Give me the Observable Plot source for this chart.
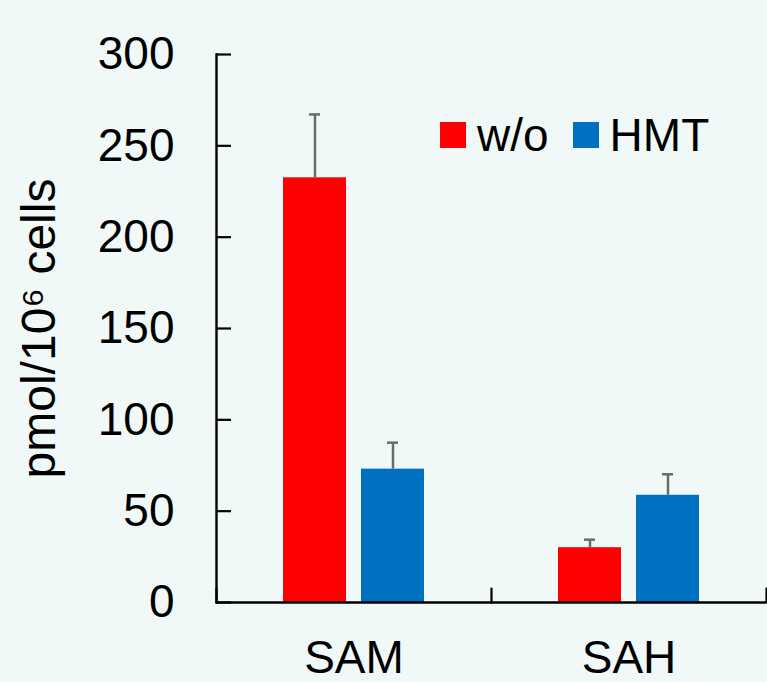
<!DOCTYPE html>
<html>
<head>
<meta charset="utf-8">
<script src="https://cdn.jsdelivr.net/npm/d3@7"></script>
<script src="https://cdn.jsdelivr.net/npm/@observablehq/plot@0.6"></script>
<style>
  html, body { margin: 0; padding: 0; background: #f1f9f8; }
  #wrap { position: relative; width: 767px; height: 682px; font-family: "Liberation Sans", Arial, sans-serif; }
  #legend { position: absolute; left: 440px; top: 112px; display: flex; align-items: center; font-size: 46px; line-height: 46px; color: #000; }
  #legend .sw { width: 26px; height: 26px; margin-right: 11px; }
  #legend .item { display: flex; align-items: center; margin-right: 24px; }
</style>
</head>
<body>
<div id="wrap"></div>
<script>
const categories = ["SAM", "SAH"];
const series = ["w/o", "HMT"];
const colors = ["#ff0000", "#0070c0"];
const woValues = [232.5, 30.0];
const hmtValues = [73.0, 58.7];
const woErr = [34.7, 4.4];
const hmtErr = [14.5, 11.5];
const yTicks = [0, 50, 100, 150, 200, 250, 300];
const yLabel = "pmol/10\u2076 cells";

const rows = [];
categories.forEach((c, i) => {
  rows.push({category: c, series: series[0], value: woValues[i], err: woErr[i]});
  rows.push({category: c, series: series[1], value: hmtValues[i], err: hmtErr[i]});
});

const tickUp = {draw(ctx, l) { ctx.moveTo(0, 0); ctx.lineTo(0, -l); }};

const plot = Plot.plot({
  width: 767,
  height: 682,
  marginLeft: 215,
  marginRight: 1,
  marginTop: 54,
  marginBottom: 80,
  style: {background: "#f1f9f8", fontFamily: "Liberation Sans, Arial, sans-serif", color: "#000"},
  fx: {domain: categories, padding: 0},
  x: {domain: series, paddingInner: 0.19, paddingOuter: 0.85, axis: null},
  y: {domain: [0, 300]},
  color: {domain: series, range: colors},
  marks: [
    Plot.barY(rows, {fx: "category", x: "series", y: "value", fill: "series"}),
    Plot.ruleX(rows, {fx: "category", x: "series", y1: "value", y2: d => d.value + d.err, stroke: "#6b6b6b", strokeWidth: 2.5}),
    Plot.tickY(rows, {fx: "category", x: "series", y: d => d.value + d.err, stroke: "#6b6b6b", strokeWidth: 2.5, insetLeft: 26, insetRight: 26}),
    Plot.ruleY([0], {stroke: "#000", strokeWidth: 2.5}),
    Plot.frame({anchor: "left", facetAnchor: "left", stroke: "#000", strokeWidth: 2.4}),
    Plot.vector([0], {frameAnchor: "bottom-left", length: 14, anchor: "start", shape: tickUp, stroke: "#000", strokeWidth: 2.2}),
    Plot.vector([0], {frameAnchor: "bottom-right", facetAnchor: "right", length: 14, anchor: "start", shape: tickUp, stroke: "#000", strokeWidth: 2.2}),
    Plot.axisY(yTicks, {tickSize: -15, tickPadding: 57, fontSize: 46, strokeWidth: 2.2,
      label: null}),
    Plot.axisY({tickSize: 0, ticks: [], label: yLabel, labelAnchor: "center", labelOffset: 196, labelArrow: "none", fontSize: 48, dy: 4}),
    Plot.axisFx({anchor: "bottom", tickSize: 0, tickPadding: 38, fontSize: 46, label: null})
  ]
});

const wrap = document.getElementById("wrap");
wrap.appendChild(plot);

const legend = document.createElement("div");
legend.id = "legend";
series.forEach((s, i) => {
  const item = document.createElement("div");
  item.className = "item";
  const sw = document.createElement("div");
  sw.className = "sw";
  sw.style.background = colors[i];
  const t = document.createElement("span");
  t.textContent = s;
  item.appendChild(sw);
  item.appendChild(t);
  legend.appendChild(item);
});
wrap.appendChild(legend);
</script>
</body>
</html>
